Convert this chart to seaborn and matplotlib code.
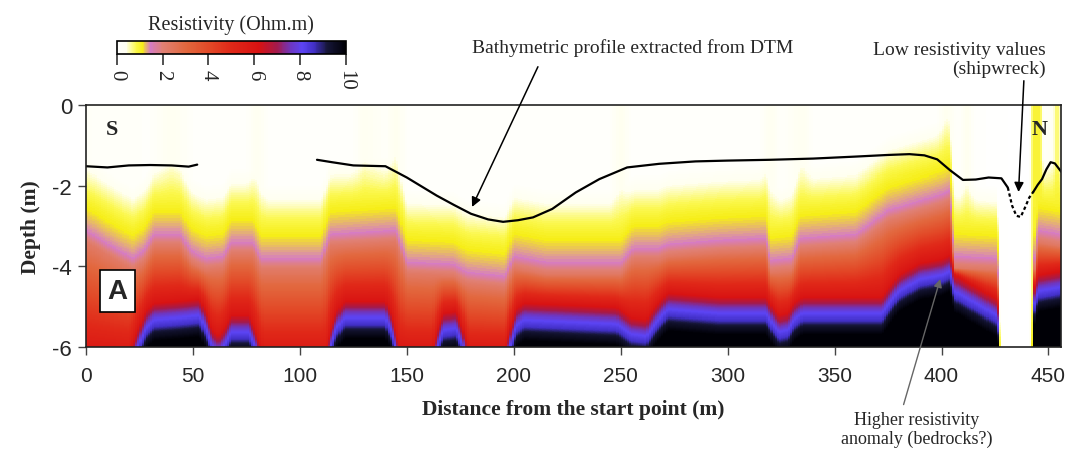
import numpy as np
import pandas as pd
import matplotlib
matplotlib.use("Agg")
import matplotlib.pyplot as plt
from matplotlib.colors import LinearSegmentedColormap, Normalize
from matplotlib.cm import ScalarMappable
import seaborn as sns

sns.set_theme(style="white")
plt.rcParams["axes.unicode_minus"] = False
SERIF = ["Liberation Serif", "DejaVu Serif"]
SANS = ["Liberation Sans", "DejaVu Sans"]

# ---------------------------------------------------------------------------
# Section geometry
# ---------------------------------------------------------------------------
x_max = 456.0          # profile length (m)
depth_max = 6.0        # section depth (m)
dx = 1.0
dz = 0.025

# Top of the pink (~1.5 Ohm.m) horizon along the profile
pink_x = [0, 12, 22, 27, 32, 44, 49, 56, 64, 68, 78, 82, 110, 114, 145, 150,
          172, 178, 196, 200, 215, 250, 256, 268, 272, 296, 318, 320, 330, 334,
          360, 375, 400, 404, 406, 426, 427, 428, 442, 443, 445, 456]
pink_d = [-3.1, -3.5, -3.8, -3.6, -3.2, -3.2, -3.6, -3.8, -3.75, -3.4, -3.4, -3.8,
          -3.8, -3.2, -3.1, -3.9, -3.95, -4.15, -4.25, -3.75, -3.9, -3.9, -3.55,
          -3.55, -3.45, -3.35, -3.3, -3.85, -3.8, -3.3, -3.2, -2.6, -2.2, -2.1,
          -3.75, -3.8, -4.5, -9.0, -9.0, -4.0, -3.1, -3.2]

# Top of the resistive (~8 Ohm.m) basement along the profile
blue_x = [0, 20, 24, 28, 32, 44, 53, 56, 59, 62, 65, 68, 76, 79, 83, 112, 114,
          117, 121, 140, 143, 147, 162, 164, 167, 173, 176, 179, 196, 198, 201,
          205, 248, 255, 262, 266, 272, 296, 318, 321, 324, 328, 331, 335, 372,
          380, 390, 400, 404, 406, 426, 427, 428, 442, 443, 445, 456]
blue_d = [-6.6, -6.6, -6.0, -5.5, -5.3, -5.25, -5.2, -5.5, -5.95, -6.1, -5.9,
          -5.6, -5.6, -5.95, -6.6, -6.6, -6.0, -5.5, -5.25, -5.25, -5.6, -6.5,
          -6.5, -6.0, -5.55, -5.5, -5.9, -6.5, -6.5, -6.0, -5.45, -5.3, -5.4,
          -5.65, -5.7, -5.4, -5.05, -5.15, -5.15, -5.4, -5.6, -5.55, -5.3, -5.15,
          -5.15, -4.6, -4.3, -4.2, -4.1, -4.6, -5.2, -5.6, -11.0, -11.0, -5.0,
          -4.6, -4.5]

# Near-surface resistivity (faint vertical streaks in the water column)
top_x = [0, 30, 40, 50, 75, 80, 85, 125, 130, 140, 145, 150, 245, 250, 255, 315,
         320, 325, 335, 340, 398, 402, 408, 412, 416, 441, 443, 446, 448, 452,
         454, 456]
top_v = [0.2, 0.15, 0.4, 0.15, 0.15, 0.4, 0.15, 0.15, 0.4, 0.2, 0.45, 0.15, 0.15,
         0.45, 0.15, 0.15, 0.4, 0.15, 0.4, 0.15, 0.15, 0.45, 0.15, 0.45, 0.1, 0.0,
         0.95, 0.95, 0.2, 0.35, 0.85, 0.4]

# Bathymetric profile extracted from DTM (m, depth m)
bathy1_x = [0, 10, 20, 30, 40, 48, 52]
bathy1_d = [-1.52, -1.55, -1.50, -1.49, -1.50, -1.53, -1.48]
bathy2_x = [108, 115, 125, 140, 150, 164, 172, 180, 188, 195, 202, 209, 218, 229,
            240, 253, 268, 285, 300, 320, 340, 360, 375, 385, 392, 398, 404, 410,
            416, 422, 428, 431]
bathy2_d = [-1.36, -1.42, -1.50, -1.52, -1.80, -2.25, -2.48, -2.70, -2.84, -2.90,
            -2.86, -2.79, -2.58, -2.17, -1.84, -1.55, -1.46, -1.40, -1.38, -1.36,
            -1.33, -1.28, -1.24, -1.22, -1.25, -1.35, -1.62, -1.86, -1.85, -1.80,
            -1.82, -2.05]
wreck_x = [431, 433, 435, 437, 439, 441, 443]
wreck_d = [-2.05, -2.50, -2.75, -2.78, -2.55, -2.30, -2.15]
bathy3_x = [443, 445, 447, 449, 451, 453, 456]
bathy3_d = [-2.15, -1.98, -1.84, -1.60, -1.42, -1.45, -1.66]

cbar_ticks = [0, 2, 4, 6, 8, 10]
x_ticks = [0, 50, 100, 150, 200, 250, 300, 350, 400, 450]
y_ticks = [0, -2, -4, -6]

# ---------------------------------------------------------------------------
# Build the resistivity grid column by column
# ---------------------------------------------------------------------------
xc = np.arange(0, x_max, dx) + dx / 2
zc = np.arange(0, depth_max, dz) + dz / 2          # positive depth downward
p_col = np.interp(xc, pink_x, pink_d)
b_col = np.interp(xc, blue_x, blue_d)
t_col = np.interp(xc, top_x, top_v)

grid = np.zeros((len(zc), len(xc)))
for j in range(len(xc)):
    p, b, t = -p_col[j], -b_col[j], t_col[j]
    knots = [0.0, max(p - 1.8, 0.01), max(p - 0.75, 0.02), p, p + 0.3,
             max(b - 0.4, p + 0.35), max(b - 0.18, p + 0.4), b, b + 0.2,
             b + 0.35, b + 0.55]
    vals = [t, t, 1.0, 1.45, 2.3, 6.0, 7.2, 8.0, 8.6, 9.4, 10.0]
    knots = np.maximum.accumulate(knots)
    grid[:, j] = np.interp(zc, knots, vals)

section = pd.DataFrame(grid, index=np.round(-zc, 3), columns=xc)

res_cmap = LinearSegmentedColormap.from_list("resistivity", [
    (0.00, "#ffffff"), (0.04, "#fffff0"), (0.08, "#fbf850"), (0.11, "#f6ee18"),
    (0.145, "#d67cc4"), (0.20, "#e08074"), (0.30, "#e2683e"), (0.40, "#e24a28"),
    (0.50, "#e02818"), (0.62, "#d81212"), (0.70, "#a41a4c"), (0.76, "#6e36c0"),
    (0.81, "#5c44f4"), (0.86, "#4230c8"), (0.92, "#161638"), (1.00, "#000006")])

# ---------------------------------------------------------------------------
# Figure
# ---------------------------------------------------------------------------
fig = plt.figure(figsize=(10.71, 4.52), dpi=100)
rect = [86 / 1071, 1 - 347.7 / 452, (1061.3 - 86) / 1071, (347.7 - 106) / 452]

ax_img = fig.add_axes(rect)
sns.heatmap(section, ax=ax_img, cmap=res_cmap, vmin=0, vmax=10, cbar=False,
            xticklabels=False, yticklabels=False, rasterized=True)
ax_img.set_xlabel("")
ax_img.set_ylabel("")
for s in ax_img.spines.values():
    s.set_visible(False)

ax = fig.add_axes(rect, facecolor="none")
ax.set_xlim(0, x_max)
ax.set_ylim(-depth_max, 0)

line_kw = dict(color="black", linewidth=1.6, ax=ax, legend=False, sort=False)
sns.lineplot(x=bathy1_x, y=bathy1_d, **line_kw)
sns.lineplot(x=bathy2_x, y=bathy2_d, **line_kw)
sns.lineplot(x=wreck_x, y=wreck_d, linestyle=(0, (1.5, 1.2)), **line_kw)
sns.lineplot(x=bathy3_x, y=bathy3_d, **line_kw)

ax.set_xticks(x_ticks)
ax.set_yticks(y_ticks)
ax.set_xticklabels([str(v) for v in x_ticks], fontsize=15, family=SANS)
ax.set_yticklabels([str(v) for v in y_ticks], fontsize=16, family=SANS)
ax.tick_params(axis="x", direction="out", length=6, width=1, color="#444444",
               bottom=True, pad=8)
ax.tick_params(axis="y", direction="out", length=6, width=1, color="#444444",
               left=True, pad=4)
for s in ax.spines.values():
    s.set_visible(True)
    s.set_color("#222222")
    s.set_linewidth(1.2)

ax.set_xlabel("Distance from the start point (m)", fontsize=15.5, family=SERIF,
              fontweight="bold", labelpad=10)
ax.set_ylabel("Depth (m)", fontsize=15.5, family=SERIF, fontweight="bold",
              labelpad=8)

ax.text(0.027, 0.9, "S", transform=ax.transAxes, fontsize=16, family=SERIF,
        fontweight="bold", ha="center", va="center")
ax.text(0.978, 0.9, "N", transform=ax.transAxes, fontsize=16, family=SERIF,
        fontweight="bold", ha="center", va="center")
ax.text(0.0323, 0.23, "A", transform=ax.transAxes, fontsize=20, family=SANS,
        fontweight="bold", ha="center", va="center",
        bbox=dict(boxstyle="square,pad=0.28", facecolor="white",
                  edgecolor="black", linewidth=1.2))

# Annotations
ax.annotate("Bathymetric profile extracted from DTM", xy=(180.5, -2.53),
            xycoords="data", xytext=(633, 452 - 48), textcoords="figure pixels",
            fontsize=14, family=SERIF, ha="center", va="center",
            annotation_clip=False,
            arrowprops=dict(arrowstyle="-|>", color="black", lw=1.1,
                            mutation_scale=14, shrinkA=6, shrinkB=0,
                            relpos=(0.22, 0.0)))
ax.annotate("Low resistivity values\n(shipwreck)", xy=(436, -2.16),
            xycoords="data", xytext=(959, 452 - 60), textcoords="figure pixels",
            fontsize=14, family=SERIF, ha="center", va="center",
            multialignment="right", linespacing=1.2, annotation_clip=False,
            arrowprops=dict(arrowstyle="-|>", color="black", lw=1.1,
                            mutation_scale=14, shrinkA=0, shrinkB=0,
                            relpos=(0.88, 0.35)))
ax.annotate("Higher resistivity\nanomaly (bedrocks?)", xy=(399.4, -4.32),
            xycoords="data", xytext=(917, 452 - 430), textcoords="figure pixels",
            fontsize=13, family=SERIF, ha="center", va="center",
            linespacing=1.2, annotation_clip=False,
            arrowprops=dict(arrowstyle="-|>", color="#666666", lw=1.0,
                            mutation_scale=12, shrinkA=2, shrinkB=0,
                            relpos=(0.4, 1.0)))

# Colour bar
cax = fig.add_axes([116.7 / 1071, 1 - 55 / 452, (346 - 116.7) / 1071, 12.7 / 452])
cb = fig.colorbar(ScalarMappable(norm=Normalize(0, 10), cmap=res_cmap), cax=cax,
                  orientation="horizontal", ticks=cbar_ticks)
cb.outline.set_edgecolor("black")
cb.outline.set_linewidth(1.2)
cax.tick_params(axis="x", direction="out", length=8, width=1.2, color="#333333",
                pad=3)
cax.set_xticklabels([str(v) for v in cbar_ticks], rotation=270, fontsize=15,
                    family=SERIF, va="top", ha="center")
cax.set_title("Resistivity (Ohm.m)", fontsize=14.5, family=SERIF, pad=9)

fig.savefig("out.png", dpi=100)
